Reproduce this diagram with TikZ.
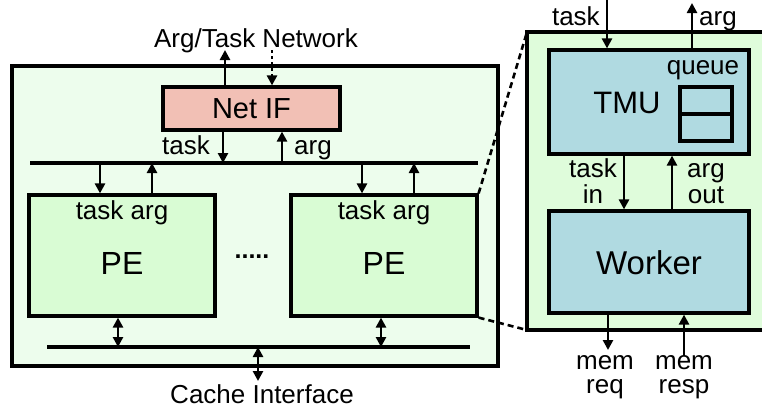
\documentclass[tikz,border=0pt]{standalone}
\usepackage{fontspec}
\setmainfont{Liberation Sans}
\usetikzlibrary{arrows.meta, positioning, calc}
\definecolor{outergreen}{RGB}{237,253,237}
\definecolor{pegreen}{RGB}{217,252,212}
\definecolor{zoomgreen}{RGB}{223,252,219}
\definecolor{unitblue}{RGB}{176,218,225}
\definecolor{netred}{RGB}{242,192,181}
\tikzset{
x=1pt, y=-1pt,
>={Triangle[length=10pt,width=10pt]},
box/.style={%
    rectangle,
    draw=black,
    line width=3.2pt,
    inner sep=0pt,
    font=\fontsize{31}{33}\selectfont
},
netbox/.style={box, fill=netred, font=\fontsize{29}{30}\selectfont},
pebox/.style={box, fill=pegreen},
unitbox/.style={box, fill=unitblue},
lbl/.style={%
    inner sep=0pt,
    anchor=base,
    align=center,
    font=\fontsize{26}{26}\selectfont
},
bus/.style={line width=3.2pt},
dotarrow/.style={->, dash pattern=on 3pt off 3pt},
zoomline/.style={dash pattern=on 6pt off 4pt, line width=2.6pt},
}

\begin{document}
\begin{tikzpicture}[line width=2.6pt]
\useasboundingbox (0,0) rectangle (762,407);

% left: the cluster
\node[box, fill=outergreen, minimum width=486pt, minimum height=300pt] (cluster) at (255,216) {};
\node[netbox, minimum width=177pt, minimum height=43pt] (netif) at (251.5,108.5) {Net IF};
\node[pebox, minimum width=186pt, minimum height=121pt] (pe1) at (122,255.5) {};
\node[pebox, minimum width=186pt, minimum height=121pt] (pe2) at (384,255.5) {};

\node[lbl] (net) at (256,47) {Arg/Task Network};
\node[lbl] (nettask) at (186,154) {task};
\node[lbl] (netarg) at (313,154) {arg};
\node[lbl] (pe1ta) at (122,219) {task arg};
\node[lbl] (pe2ta) at (384,219) {task arg};
\node[lbl, font=\fontsize{32}{33}\selectfont] (pe1name) at (122,274) {PE};
\node[lbl, font=\fontsize{32}{33}\selectfont] (pe2name) at (384,274) {PE};
\node[lbl, font=\fontsize{25}{26}\bfseries] (dots) at (252,258) {.....};
\node[lbl] (cache) at (262,403) {Cache Interface};

\coordinate (netout) at (225,50);
\coordinate (netin) at (272,50);
\coordinate (busL) at (30,163);
\coordinate (busR) at (478,163);
\coordinate (memL) at (47,347);
\coordinate (memR) at (470,347);
\coordinate (cacheend) at (258,381);

\draw[bus] (busL) -- (busR);
\draw[bus] (memL) -- (memR);

\draw[->] (netif.north -| netout) -- (netout);
\draw[dotarrow] (netin) -- (netif.north -| netin);
\draw[->] (netif.south -| 223,0) -- (busL -| 223,0);
\draw[->] (busL -| 282,0) -- (netif.south -| 282,0);

\draw[->] (busL -| 100,0) -- (pe1.north -| 100,0);
\draw[->] (pe1.north -| 152,0) -- (busL -| 152,0);
\draw[->] (busL -| 362,0) -- (pe2.north -| 362,0);
\draw[->] (pe2.north -| 414,0) -- (busL -| 414,0);

\draw[<->] (pe1.south -| 118,0) -- (memL -| 118,0);
\draw[<->] (pe2.south -| 381,0) -- (memL -| 381,0);
\draw[<->] (memL -| cacheend) -- (cacheend);

% right: inside one PE
\fill[zoomgreen] (527,32) rectangle (762,330);
\draw[line width=3.2pt] (763,32) -- (527,32) -- (527,330) -- (763,330);
\coordinate (zoomtop) at (527,32);
\coordinate (zoombot) at (527,330);
\draw[zoomline] (pe2.north east) -- (zoomtop);
\draw[zoomline] (pe2.south east) -- (zoombot);

\node[unitbox, minimum width=200pt, minimum height=104pt] (tmu) at (649,102) {};
\node[unitbox, minimum width=200pt, minimum height=102pt] (worker) at (649,262) {};
\node[box, fill=unitblue, minimum width=52pt, minimum height=54pt] (queue) at (706,114) {};
\draw[line width=3.2pt] (queue.west) -- (queue.east);

\node[lbl, font=\fontsize{31}{32}\selectfont] (tmuname) at (627,113) {TMU};
\node[lbl] (qname) at (703,74) {queue};
\node[lbl, font=\fontsize{33}{34}\selectfont] (wname) at (649,274) {Worker};
\node[lbl, anchor=base east] (intask) at (601,25) {task};
\node[lbl] (outarg) at (718,25) {arg};
\node[lbl] (taskin) at (593,203) {task\\in};
\node[lbl] (argout) at (706,203) {arg\\out};
\node[lbl, font=\fontsize{26}{24}\selectfont] (memreq) at (605,393) {mem\\req};
\node[lbl, font=\fontsize{26}{24}\selectfont] (memresp) at (684,393) {mem\\resp};

\coordinate (taskfrom) at (607,0);
\coordinate (argto) at (692,3);
\coordinate (reqto) at (608,350);
\coordinate (respfrom) at (684,356);

\draw[->] (taskfrom) -- (tmu.north -| taskfrom);
\draw[->] (tmu.north -| argto) -- (argto);
\draw[->] (tmu.south -| 624,0) -- (worker.north -| 624,0);
\draw[->] (worker.north -| 672,0) -- (tmu.south -| 672,0);
\draw[->] (worker.south -| reqto) -- (reqto);
\draw[->] (respfrom) -- (worker.south -| respfrom);

\end{tikzpicture}
\end{document}
